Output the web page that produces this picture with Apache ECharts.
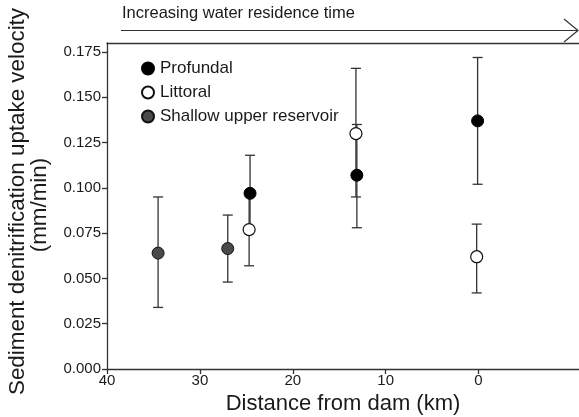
<!DOCTYPE html>
<html>
<head>
<meta charset="utf-8">
<title>Sediment denitrification uptake velocity</title>
<script src="https://cdn.jsdelivr.net/npm/echarts@6/dist/echarts.min.js"></script>
<style>
  html, body { margin: 0; padding: 0; background: #fff; }
  #chart { width: 579px; height: 417px; }
</style>
</head>
<body>
<div id="chart"></div>
<script>
// Distance from dam (km), mean uptake velocity (mm/min) and error-bar bounds
const profundalKm   = [24.6, 13.1, 0.1];
const profundalMean = [0.097, 0.107, 0.137];
const profundalLow  = [0.076, 0.078, 0.102];
const profundalHigh = [0.118, 0.135, 0.172];

const littoralKm   = [24.7, 13.2, 0.2];
const littoralMean = [0.077, 0.130, 0.062];
const littoralLow  = [0.057, 0.095, 0.042];
const littoralHigh = [0.097, 0.166, 0.080];

const shallowKm   = [34.5, 27.0];
const shallowMean = [0.064, 0.0665];
const shallowLow  = [0.034, 0.048];
const shallowHigh = [0.095, 0.085];

const xTicks = [40, 30, 20, 10, 0];
const yTicks = [0, 0.025, 0.05, 0.075, 0.1, 0.125, 0.15, 0.175];

const FONT = "'Liberation Sans', Arial, Helvetica, sans-serif";
const INK = '#1a1a1a';
const AXIS = { color: '#333', width: 1.3 };

const points = (xs, ys) => xs.map((x, i) => [x, ys[i]]);
const bars = (xs, lo, hi) => xs.map((x, i) => [x, lo[i], hi[i]]);

// Vertical error bar with short caps at both ends
function renderErrorBar(params, api) {
  const x = api.value(0);
  const lo = api.coord([x, api.value(1)]);
  const hi = api.coord([x, api.value(2)]);
  const half = 5;
  const style = { stroke: '#333', lineWidth: 1.3 };
  return {
    type: 'group',
    children: [
      { type: 'line', shape: { x1: lo[0], y1: lo[1], x2: hi[0], y2: hi[1] }, style },
      { type: 'line', shape: { x1: lo[0] - half, y1: lo[1], x2: lo[0] + half, y2: lo[1] }, style },
      { type: 'line', shape: { x1: hi[0] - half, y1: hi[1], x2: hi[0] + half, y2: hi[1] }, style }
    ]
  };
}

function errorSeries(data) {
  return {
    type: 'custom',
    renderItem: renderErrorBar,
    data: data,
    z: 1,
    silent: true,
    clip: false,
    encode: { x: 0, y: [1, 2] }
  };
}

const chart = echarts.init(document.getElementById('chart'), null, { renderer: 'canvas' });

chart.setOption({
  animation: false,
  backgroundColor: '#fff',
  textStyle: { fontFamily: FONT },
  grid: {
    left: 107, top: 43, bottom: 48, right: -11,
    containLabel: false,
    outerBoundsMode: 'none',
    show: false
  },
  xAxis: [
    {
      type: 'value',
      inverse: true,
      min: -12, max: 40,
      position: 'bottom',
      axisLine: { show: true, onZero: false, lineStyle: AXIS },
      axisTick: { show: true, length: 5, lineStyle: AXIS, customValues: xTicks },
      axisLabel: {
        color: INK, fontSize: 15, fontFamily: FONT, margin: 4,
        customValues: xTicks,
        formatter: v => String(v)
      },
      splitLine: { show: false }
    },
    {
      // top frame line of the plot box
      type: 'value',
      inverse: true,
      min: -12, max: 40,
      position: 'top',
      axisLine: { show: true, onZero: false, lineStyle: AXIS },
      axisTick: { show: false },
      axisLabel: { show: false },
      splitLine: { show: false }
    }
  ],
  yAxis: {
    type: 'value',
    min: 0, max: 0.18,
    axisLine: { show: true, onZero: false, lineStyle: AXIS },
    axisTick: { show: true, length: 5, lineStyle: AXIS, customValues: yTicks },
    axisLabel: {
      color: INK, fontSize: 15, fontFamily: FONT, margin: 6,
      customValues: yTicks,
      formatter: v => v.toFixed(3)
    },
    splitLine: { show: false }
  },
  legend: {
    orient: 'vertical',
    left: 141, top: 60,
    padding: 0,
    itemWidth: 12, itemHeight: 12,
    itemGap: 7,
    icon: 'circle',
    selectedMode: false,
    textStyle: { color: INK, fontSize: 17, fontFamily: FONT, padding: [0, 0, 0, 1] },
    data: ['Profundal', 'Littoral', 'Shallow upper reservoir']
  },
  series: [
    errorSeries(bars(shallowKm, shallowLow, shallowHigh)),
    errorSeries(bars(littoralKm, littoralLow, littoralHigh)),
    errorSeries(bars(profundalKm, profundalLow, profundalHigh)),
    {
      name: 'Profundal', type: 'scatter', symbol: 'circle', symbolSize: 12, z: 3,
      itemStyle: { color: '#000', borderColor: '#000', borderWidth: 1, opacity: 1 },
      data: points(profundalKm, profundalMean)
    },
    {
      name: 'Littoral', type: 'scatter', symbol: 'circle', symbolSize: 12, z: 4,
      itemStyle: { color: '#fff', borderColor: '#111', borderWidth: 1.2, opacity: 1 },
      data: points(littoralKm, littoralMean)
    },
    {
      name: 'Shallow upper reservoir', type: 'scatter', symbol: 'circle', symbolSize: 12, z: 3,
      itemStyle: { color: '#4a4a4a', borderColor: '#111', borderWidth: 1, opacity: 1 },
      data: points(shallowKm, shallowMean)
    }
  ],
  graphic: [
    {
      type: 'text', left: 122, top: 5,
      style: { text: 'Increasing water residence time', fill: INK, fontSize: 16.5, fontFamily: FONT }
    },
    {
      type: 'line', silent: true,
      shape: { x1: 121, y1: 30.5, x2: 578, y2: 30.5 },
      style: { stroke: '#333', lineWidth: 1.2 }
    },
    {
      type: 'polyline', silent: true,
      shape: { points: [[564, 19], [578, 30.5], [564, 42]] },
      style: { stroke: '#333', lineWidth: 1.2, fill: null }
    },
    {
      type: 'text', x: 18, y: 201.5, rotation: Math.PI / 2,
      style: { text: 'Sediment denitrification uptake velocity', fill: INK, fontSize: 22.4, fontFamily: FONT, align: 'center', verticalAlign: 'middle' }
    },
    {
      type: 'text', x: 40, y: 205, rotation: Math.PI / 2,
      style: { text: '(mm/min)', fill: INK, fontSize: 22.4, fontFamily: FONT, align: 'center', verticalAlign: 'middle' }
    },
    {
      type: 'text', x: 343, y: 393,
      style: { text: 'Distance from dam (km)', fill: INK, fontSize: 22, fontFamily: FONT, align: 'center', verticalAlign: 'top' }
    }
  ]
});
</script>
</body>
</html>
